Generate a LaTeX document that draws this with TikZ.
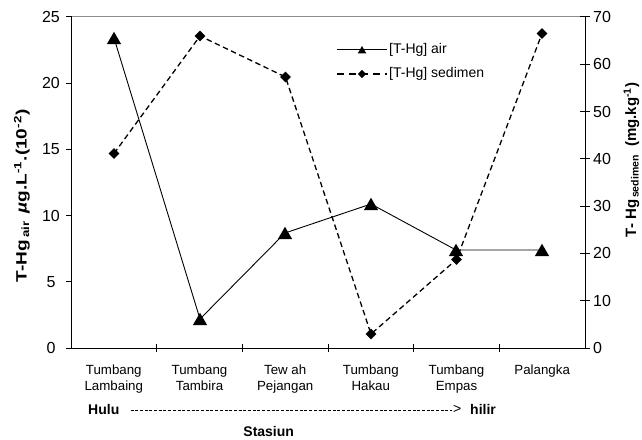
\documentclass[tikz,border=0pt]{standalone}
\usepackage{fontspec}
\setmainfont{Liberation Sans}
\usetikzlibrary{shapes.geometric}
\begin{document}
\begin{tikzpicture}[x=1bp,y=-1bp,
  axisline/.style={line width=1bp, line cap=rect},
  tickline/.style={line width=1bp},
  airline/.style={line width=0.9bp},
  sedline/.style={line width=1.3bp, dash pattern=on 5.5bp off 3.5bp},
  trimark/.style={regular polygon, regular polygon sides=3, fill=black, draw=none, inner sep=0pt, minimum size=16.5bp, yshift=-2bp},
  diamark/.style={diamond, aspect=1, fill=black, draw=none, inner sep=0pt, minimum size=11bp},
  ticklab/.style={font=\fontsize{16bp}{18bp}\selectfont, inner sep=0pt},
  catlab/.style={font=\fontsize{13.3bp}{15.7bp}\selectfont, align=center, anchor=north, inner sep=0pt},
  legtext/.style={font=\fontsize{14bp}{16bp}\selectfont, anchor=west, inner sep=0pt},
  boldlab/.style={font=\bfseries\fontsize{14bp}{16bp}\selectfont, inner sep=0pt},
  ytitle/.style={font=\bfseries\fontsize{15bp}{18bp}\selectfont, rotate=90, anchor=base, inner sep=0pt}]
\useasboundingbox (0,0) rectangle (642,440);

% frame and axes
\draw[black!45, line width=1bp] (71,17) -- (585,17);
\draw[axisline] (71,17) -- (71,348) -- (585,348) -- (585,17);

% left ticks and labels
\foreach \v/\yy in {0/348,5/281.8,10/215.6,15/149.4,20/83.2,25/17}{
  \draw[tickline] (66,\yy) -- (71,\yy);
  \node[ticklab] (lt\v) at (51,\yy) {\v};
}
% right ticks and labels
\foreach \v/\yy in {0/348,10/300.7,20/253.4,30/206.1,40/158.9,50/111.6,60/64.3,70/17}{
  \draw[tickline] (580,\yy) -- (590,\yy);
  \node[ticklab, anchor=west] (rt\v) at (593,\yy) {\v};
}
% bottom ticks
\foreach \xx in {156.7,242.3,328,413.7,499.3}{
  \draw[tickline] (\xx,344) -- (\xx,352);
}

% category labels
\node[catlab] (c1) at (113.8,364.5) {Tumbang\\Lambaing};
\node[catlab] (c2) at (199.5,364.5) {Tumbang\\Tambira};
\node[catlab] (c3) at (285.2,364.5) {Tew ah\\Pejangan};
\node[catlab] (c4) at (370.8,364.5) {Tumbang\\Hakau};
\node[catlab] (c5) at (456.5,364.5) {Tumbang\\Empas};
\node[catlab] (c6) at (542.2,364.5) {Palangka};

% axis titles
\node[ytitle] (ytl) at (26.5,196) {\scalebox{1.27}[1]{T-Hg\textsubscript{\,air}\hspace{6bp}{\itshape µ}g.L\textsuperscript{-1}.(10\textsuperscript{-2})}};
\node[ytitle] (ytr) at (636,160) {T- Hg\textsubscript{\,sedimen}\hspace{8bp}(mg.kg\textsuperscript{-1})};

% data points
\coordinate (a1) at (114,38);
\coordinate (a2) at (200,319);
\coordinate (a3) at (285,233);
\coordinate (a4) at (371,204);
\coordinate (a5) at (456,250);
\coordinate (a6) at (542,250);
\coordinate (s1) at (114,153.5);
\coordinate (s2) at (200,36);
\coordinate (s3) at (285.5,77);
\coordinate (s4) at (371,334);
\coordinate (s5) at (456.5,259.5);
\coordinate (s6) at (542,33.5);

\draw[sedline] (s1) -- (s2) -- (s3) -- (s4) -- (s5) -- (s6);
\draw[airline] (a1) -- (a2) -- (a3) -- (a4) -- (a5) -- (a6);

\foreach \i in {1,...,6}{
  \node[diamark] (sm\i) at (s\i) {};
}
\foreach \i in {1,...,6}{
  \node[trimark] (am\i) at (a\i) {};
}

% legend
\coordinate (la1) at (337,49.5);
\coordinate (la2) at (387,49.5);
\draw[airline] (la1) -- (la2);
\node[trimark, minimum size=10bp, yshift=0.5bp] (lam) at (362,49.5) {};
\node[legtext] (lat) at (389,49.5) {[T-Hg] air};
\coordinate (ls1) at (337,74);
\coordinate (ls2) at (387,74);
\draw[line width=1.3bp, dash pattern=on 7bp off 5bp] (ls1) -- (ls2);
\node[diamark, minimum size=8.5bp] (lsm) at (362,74) {};
\node[legtext] (lst) at (389,74) {[T-Hg] sedimen};

% hulu -> hilir
\node[boldlab, anchor=west] (hulu) at (88,409) {Hulu};
\node[boldlab, anchor=west] (hilir) at (470,409) {hilir};
\node[font=\fontsize{14bp}{16bp}\selectfont, inner sep=0pt, anchor=east] (gt) at (461.5,409) {>};
\draw[line width=1bp, dash pattern=on 3bp off 1.7bp] ([xshift=11bp,yshift=-1bp]hulu.east) -- ([xshift=-1bp,yshift=-1bp]gt.west);
\node[boldlab] (stas) at (268.7,431) {Stasiun};
\end{tikzpicture}
\end{document}
